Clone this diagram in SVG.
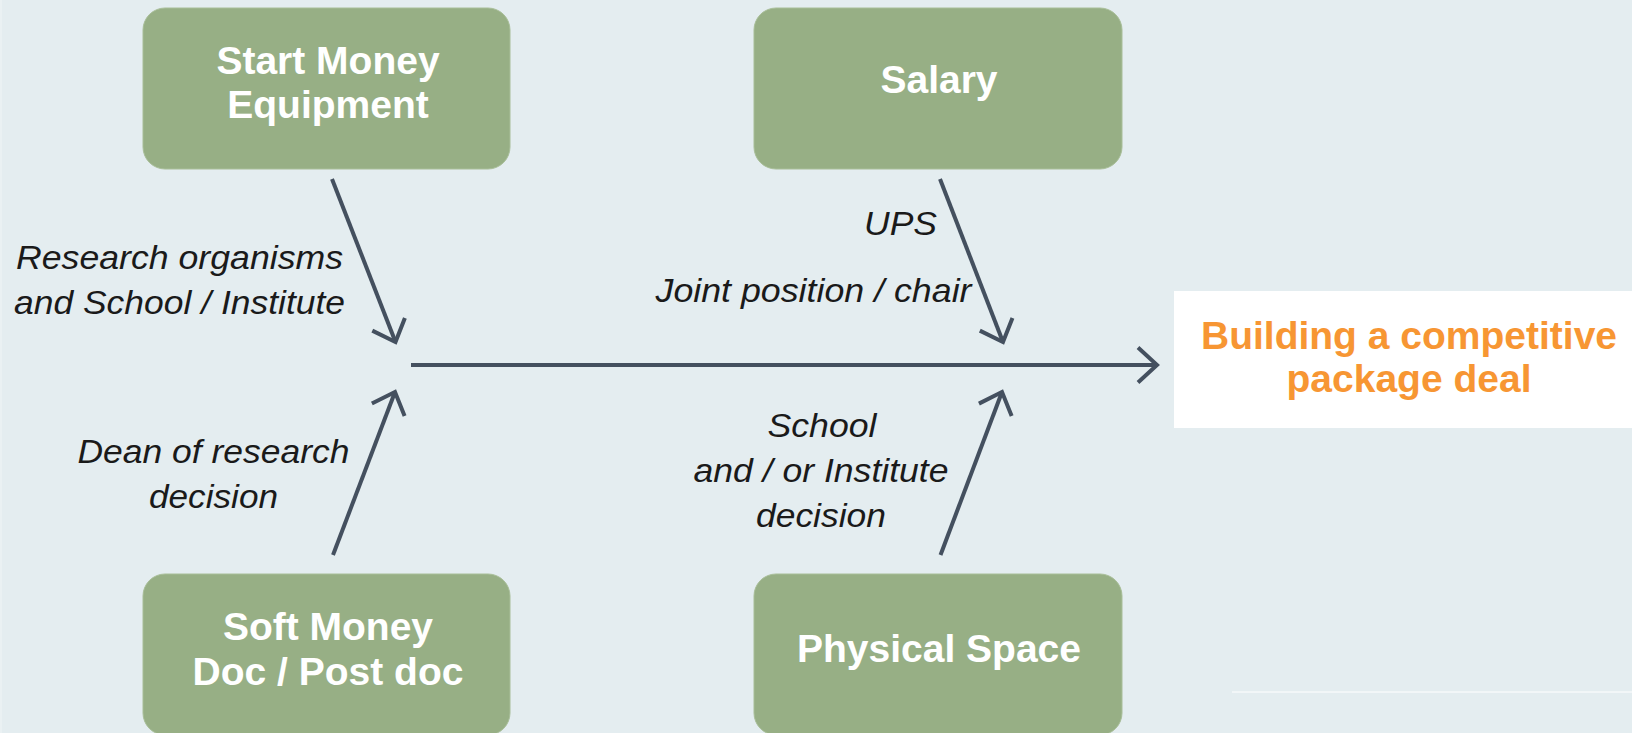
<svg xmlns="http://www.w3.org/2000/svg" width="1632" height="733" viewBox="0 0 1632 733">
  <defs>
    <style>
      .box { fill: #97AF85; stroke: #A8BE98; stroke-width: 1; }
      .boxtxt { font-family: "Liberation Sans", Arial, sans-serif; font-weight: bold; font-size: 39px; fill: #FFFFFF; text-anchor: middle; }
      .lbl { font-family: "Liberation Sans", Arial, sans-serif; font-style: italic; font-size: 33.5px; fill: #1A1A1A; }
      .title { font-family: "Liberation Sans", Arial, sans-serif; font-weight: bold; font-size: 39px; fill: #F79633; text-anchor: middle; }
      .conn { stroke: #44505F; stroke-width: 4; fill: none; marker-end: url(#chev); }
    </style>
    <marker id="chev" markerUnits="userSpaceOnUse" viewBox="-30 -30 40 60" markerWidth="40" markerHeight="60" refX="0" refY="0" orient="auto" overflow="visible">
      <path d="M -19 -17.5 L 0 0 L -19 17.5" fill="none" stroke="#44505F" stroke-width="4" stroke-linejoin="miter"/>
    </marker>
  </defs>

  <rect x="0" y="0" width="1632" height="733" fill="#E4EDF0"/>
  <line x1="1" y1="0" x2="1" y2="733" stroke="#EDF2F4" stroke-width="1.5"/>
  <line x1="1232" y1="692" x2="1632" y2="692" stroke="#FFFFFF" stroke-width="1"/>

  <g id="connectors">
    <line class="conn" x1="411" y1="365" x2="1157" y2="365"/>
    <line class="conn" x1="332" y1="179" x2="395.5" y2="342"/>
    <line class="conn" x1="333" y1="555" x2="395" y2="392"/>
    <line class="conn" x1="940" y1="179" x2="1003" y2="342"/>
    <line class="conn" x1="940.5" y1="555" x2="1002" y2="392"/>
  </g>

  <g id="node-start-money">
    <rect class="box" x="143" y="8" width="367" height="161" rx="22" ry="22"/>
    <text class="boxtxt" x="328" y="74">Start Money</text>
    <text class="boxtxt" x="328" y="118">Equipment</text>
  </g>

  <g id="node-salary">
    <rect class="box" x="754" y="8" width="368" height="161" rx="22" ry="22"/>
    <text class="boxtxt" x="939" y="93">Salary</text>
  </g>

  <g id="node-soft-money">
    <rect class="box" x="143" y="574" width="367" height="161" rx="22" ry="22"/>
    <text class="boxtxt" x="328" y="640">Soft Money</text>
    <text class="boxtxt" x="328" y="685">Doc / Post doc</text>
  </g>

  <g id="node-physical-space">
    <rect class="box" x="754" y="574" width="368" height="161" rx="22" ry="22"/>
    <text class="boxtxt" x="939" y="662">Physical Space</text>
  </g>

  <g id="node-goal">
    <rect x="1174" y="291" width="458" height="137" fill="#FFFFFF"/>
    <text class="title" x="1409" y="349">Building a competitive</text>
    <text class="title" x="1409" y="392">package deal</text>
  </g>

  <g id="labels">
    <text class="lbl" x="16" y="269" textLength="327" lengthAdjust="spacingAndGlyphs">Research organisms</text>
    <text class="lbl" x="14" y="314" textLength="331" lengthAdjust="spacingAndGlyphs">and School / Institute</text>
    <text class="lbl" x="77.5" y="463" textLength="272" lengthAdjust="spacingAndGlyphs">Dean of research</text>
    <text class="lbl" x="149" y="508" textLength="129" lengthAdjust="spacingAndGlyphs">decision</text>
    <text class="lbl" x="864" y="235" textLength="73" lengthAdjust="spacingAndGlyphs">UPS</text>
    <text class="lbl" x="655.5" y="302" textLength="316" lengthAdjust="spacingAndGlyphs">Joint position / chair</text>
    <text class="lbl" x="767.5" y="437" textLength="109" lengthAdjust="spacingAndGlyphs">School</text>
    <text class="lbl" x="693.5" y="482" textLength="255" lengthAdjust="spacingAndGlyphs">and / or Institute</text>
    <text class="lbl" x="756" y="527" textLength="130" lengthAdjust="spacingAndGlyphs">decision</text>
  </g>
</svg>
